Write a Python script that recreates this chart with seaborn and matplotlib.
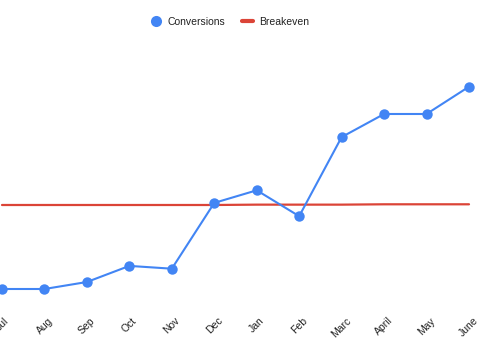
import numpy as np
import pandas as pd
import matplotlib
matplotlib.use('Agg')
import matplotlib.pyplot as plt
from matplotlib.lines import Line2D
import seaborn as sns

sns.set_style('white')
plt.rcParams['font.family'] = ['Liberation Sans', 'DejaVu Sans']

# data
months = ['Jul', 'Aug', 'Sep', 'Oct', 'Nov', 'Dec', 'Jan', 'Feb', 'Marc', 'April', 'May', 'June']
conversions = [2.0, 2.0, 3.0, 5.3, 4.9, 14.3, 16.1, 12.4, 23.7, 27.0, 27.0, 30.9]
breakeven = [14.0, 14.0, 14.0, 14.0, 14.0, 14.0, 14.05, 14.05, 14.05, 14.1, 14.1, 14.1]

blue = '#4285F4'
red = '#DB4437'

df = pd.DataFrame({'pos': np.arange(len(months)), 'month': months,
                   'conversions': conversions, 'breakeven': breakeven})

fig = plt.figure(figsize=(5, 3.5), dpi=100)
ax = fig.add_axes([0, 40 / 350, 1, 270 / 350])

sns.lineplot(data=df, x='pos', y='breakeven', color=red, linewidth=1.6, ax=ax, sort=False)
sns.lineplot(data=df, x='pos', y='conversions', color=blue, linewidth=1.5, marker='o',
             markersize=7.5, markeredgewidth=0, ax=ax, sort=False, clip_on=False)

ax.set_xlim(-2 / 42.45, 11 + 31 / 42.45)
ax.set_ylim(-1, 37.57)
ax.set_xticks(df['pos'])
ax.set_xticklabels(months, rotation=45, fontsize=7.5, color='#222222')
ax.tick_params(axis='x', length=0, pad=4)
ax.set_yticks([])
ax.set_xlabel('')
ax.set_ylabel('')
for s in ax.spines.values():
    s.set_visible(False)

handles = [
    Line2D([], [], marker='o', linestyle='none', color=blue, markersize=8, markeredgewidth=0),
    Line2D([], [], color=red, linewidth=3),
]
fig.legend(handles, ['Conversions', 'Breakeven'], loc='center', bbox_to_anchor=(0.46, 1 - 22 / 350),
           ncol=2, frameon=False, fontsize=7.5, handlelength=1.0, handletextpad=0.6,
           columnspacing=1.6, labelcolor='#222222')

fig.savefig('out.png', dpi=100)
